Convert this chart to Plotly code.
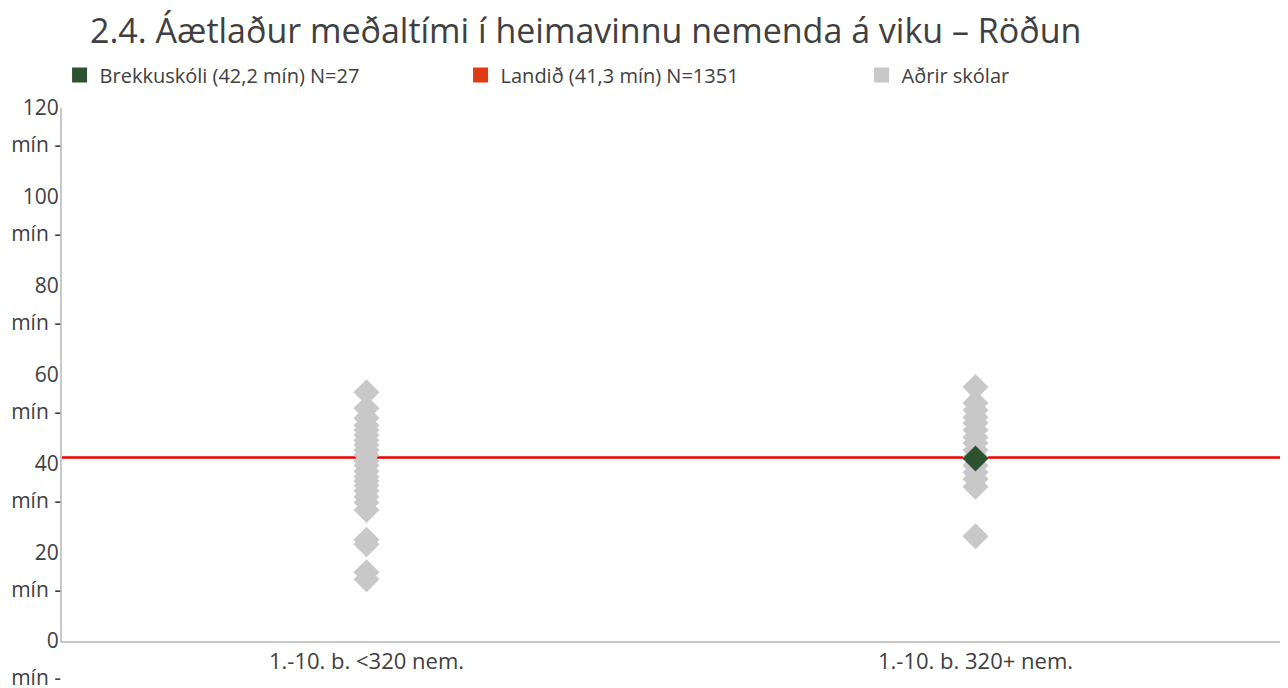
import plotly.graph_objects as go

title = "2.4. Áætlaður meðaltími í heimavinnu nemenda á viku – Röðun"
categories = ["1.-10. b. <320 nem.", "1.-10. b. 320+ nem."]

# Aðrir skólar (other schools), minutes
others_small = [56.0, 52.4, 50.2, 48.6, 47.5, 46.4, 45.2, 44.1, 43.0, 41.9,
                40.5, 39.5, 38.2, 37.0, 36.0, 35.0, 33.8, 32.5, 31.2, 29.5,
                22.8, 21.8, 15.5, 13.9]
others_large = [57.2, 53.6, 52.0, 50.4, 49.1, 47.5, 45.9, 44.6, 43.0, 41.5,
                39.5, 38.0, 36.5, 34.7, 23.6]

school_name = "Brekkuskóli (42,2 mín) N=27"
school_category = "1.-10. b. 320+ nem."
school_value = 41.1

national_name = "Landið (41,3 mín) N=1351"
national_value = 41.3

others_name = "Aðrir skólar"

y_tickvals = [0, 20, 40, 60, 80, 100, 120]
y_ticktext = [str(v) for v in y_tickvals]
y_unittext = ["mín -"] * len(y_tickvals)

GREEN = "#2e5230"
RED_LEG = "#e03c14"
RED_LINE = "#ee0000"
GRAY = "#c8c8c8"
TEXT = "#404040"
FONT = "Open Sans"

fig = go.Figure()

gx = [categories[0]] * len(others_small) + [categories[1]] * len(others_large)
gy = others_small + others_large
fig.add_trace(go.Scatter(x=gx, y=gy, mode="markers", showlegend=False,
                         marker=dict(symbol="diamond", size=20, color=GRAY),
                         hoverinfo="y"))
fig.add_trace(go.Scatter(x=[school_category], y=[school_value], mode="markers",
                         showlegend=False,
                         marker=dict(symbol="diamond", size=20, color=GREEN)))

# legend entries (squares)
for name, col in [(school_name, GREEN), (national_name, RED_LEG), (others_name, GRAY)]:
    fig.add_trace(go.Scatter(x=[None], y=[None], mode="markers", name=name,
                             marker=dict(symbol="square", size=15, color=col)))

# invisible trace so the unit-label axis is drawn
fig.add_trace(go.Scatter(x=[None], y=[None], yaxis="y2", showlegend=False,
                         hoverinfo="skip"))

fig.add_shape(type="line", xref="paper", x0=0, x1=1, yref="y",
              y0=national_value, y1=national_value,
              line=dict(color=RED_LINE, width=2.5), layer="below")

fig.update_layout(
    width=1288, height=688,
    margin=dict(l=54, r=16, t=100, b=55),
    paper_bgcolor="white", plot_bgcolor="white",
    font=dict(family=FONT, color=TEXT, size=20),
    title=dict(text=title, x=82 / 1288, xref="container", xanchor="left",
               y=0.966, yref="container", yanchor="middle",
               font=dict(size=34, color=TEXT, family=FONT)),
    legend=dict(orientation="h", x=-0.002, xanchor="left", y=1.062, yanchor="middle",
                entrywidth=356, entrywidthmode="pixels",
                font=dict(size=20, color=TEXT), itemwidth=30),
    xaxis=dict(type="category", categoryorder="array", categoryarray=categories,
               range=[-0.5, 1.5], showline=True, linecolor=GRAY, linewidth=2,
               showgrid=False, zeroline=False, ticks="", automargin=False,
               tickfont=dict(size=22, color=TEXT)),
    yaxis=dict(range=[0, 120], tickvals=y_tickvals, ticktext=y_ticktext,
               showline=True, linecolor=GRAY, linewidth=2, showgrid=False,
               zeroline=False, ticks="", automargin=False, ticklabelstandoff=-3,
               tickfont=dict(size=21, color=TEXT)),
    yaxis2=dict(range=[0, 120], tickvals=y_tickvals, ticktext=y_unittext,
                overlaying="y", side="left", showline=False, showgrid=False,
                zeroline=False, ticks="", ticklabelshift=37, automargin=False,
                ticklabelstandoff=0,
                tickfont=dict(size=21, color=TEXT)),
)

fig.write_html("out.html")
